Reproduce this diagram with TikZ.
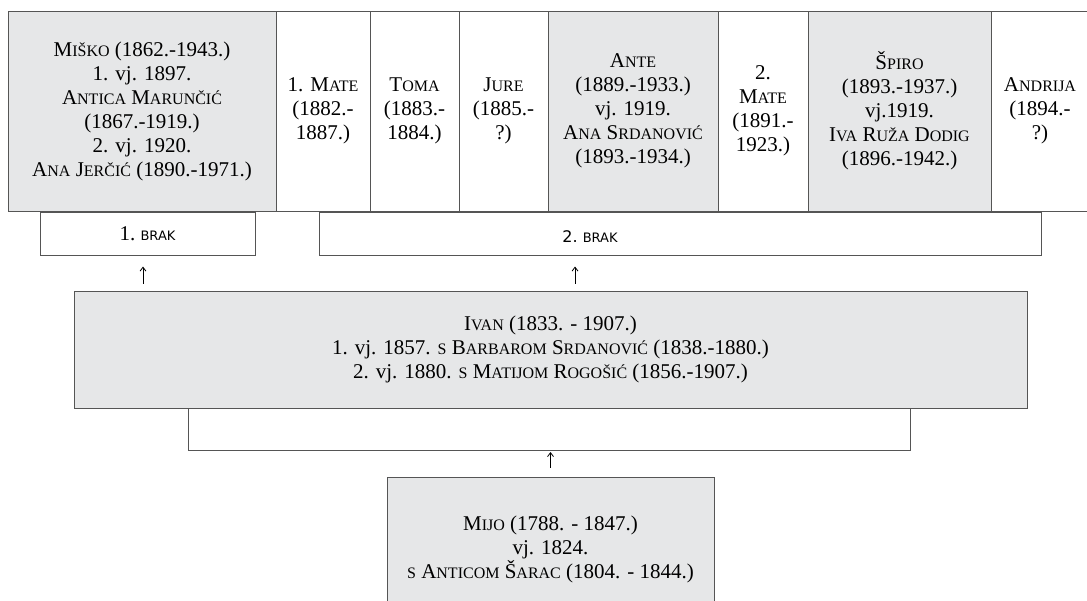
\documentclass[tikz,border=0pt]{standalone}
\usepackage{fontspec}
\setmainfont{Liberation Serif}
\newfontfamily\brakfont{DejaVu Sans}
\usetikzlibrary{arrows.meta}
\definecolor{boxgray}{RGB}{230,231,232}
\definecolor{edgegray}{RGB}{85,85,85}
\newcommand\sca[2]{#1{\fontsize{16}{24}\selectfont #2}}
\newcommand\brakword{{\brakfont\fontsize{13}{16}\selectfont BRAK}}

\begin{document}
\begin{tikzpicture}[x=1pt,y=-1pt,
  box/.style={draw=edgegray,line width=1pt,inner sep=0pt,align=center,font=\fontsize{21}{24}\selectfont},
  kid/.style={box,minimum height=200pt},
  grey/.style={fill=boxgray},
  arr/.style={-{Straight Barb[length=4pt,width=6pt]},line width=0.8pt}]
\useasboundingbox (0,0) rectangle (1087,600);
\clip (0,0) rectangle (1087,600);
\fill[white] (0,0) rectangle (1087,600);

\node[kid,grey,minimum width=268pt] (misko) at (142,111) {\sca{M}{IŠKO} (1862.-1943.)\\1. vj. 1897.\\\sca{A}{NTICA} \sca{M}{ARUNČIĆ}\\(1867.-1919.)\\2. vj. 1920.\\\sca{A}{NA} \sca{J}{ERČIĆ} (1890.-1971.)};
\node[kid,minimum width=94pt] (mate1) at (323,111) {1. \sca{M}{ATE}\\(1882.-\\1887.)};
\node[kid,minimum width=89pt] (toma) at (414.5,111) {\sca{T}{OMA}\\(1883.-\\1884.)};
\node[kid,minimum width=89pt] (jure) at (503.5,111) {\sca{J}{URE}\\(1885.-\\?)};
\node[kid,grey,minimum width=170pt] (ante) at (633,111) {\sca{A}{NTE}\\(1889.-1933.)\\vj. 1919.\\\sca{A}{NA} \sca{S}{RDANOVIĆ}\\(1893.-1934.)};
\node[kid,minimum width=90pt] (mate2) at (763,111) {2.\\\sca{M}{ATE}\\(1891.-\\1923.)};
\node[kid,grey,minimum width=183pt] (spiro) at (899.5,111) {\sca{Š}{PIRO}\\(1893.-1937.)\\vj.1919.\\\sca{I}{VA} \sca{R}{UŽA} \sca{D}{ODIG}\\(1896.-1942.)};
\node[kid,minimum width=98pt] (andrija) at (1040,111) {\sca{A}{NDRIJA}\\(1894.-\\?)};

\node[box,minimum width=215pt,minimum height=43pt] (brak1) at (147.5,233.5) {1.~\brakword};
\node[box,minimum width=722pt,minimum height=43pt] (brak2) at (680,233.5) {};
\node[font=\brakfont\fontsize{16}{18}\selectfont,inner sep=0pt] (brak2txt) at (590,237) {2.~\brakword};

\node[box,grey,minimum width=953pt,minimum height=117pt] (ivan) at (550.5,349.5) {\sca{I}{VAN} (1833. - 1907.)\\1. vj. 1857. \sca{}{S} \sca{B}{ARBAROM} \sca{S}{RDANOVIĆ} (1838.-1880.)\\2. vj. 1880. \sca{}{S} \sca{M}{ATIJOM} \sca{R}{OGOŠIĆ} (1856.-1907.)};
\coordinate (bl) at (188,450);
\coordinate (br) at (910,450);
\draw[draw=edgegray,line width=1pt] (bl |- ivan.south) -- (bl) -- (br) -- (br |- ivan.south);

\node[box,grey,minimum width=327pt,minimum height=144pt] (mijo) at (550.5,549) {\sca{M}{IJO} (1788. - 1847.)\\vj. 1824.\\\sca{}{S} \sca{A}{NTICOM} \sca{Š}{ARAC} (1804. - 1844.)};

\coordinate (a1) at (143,0);
\coordinate (a2) at (575,0);
\draw[arr,shorten <=7pt,shorten >=11pt] (a1 |- ivan.north) -- (a1 |- brak1.south);
\draw[arr,shorten <=7pt,shorten >=11pt] (a2 |- ivan.north) -- (a2 |- brak2.south);
\draw[arr,shorten <=9pt,shorten >=2pt] (mijo.north) -- (mijo.north |- bl);
\end{tikzpicture}
\end{document}
